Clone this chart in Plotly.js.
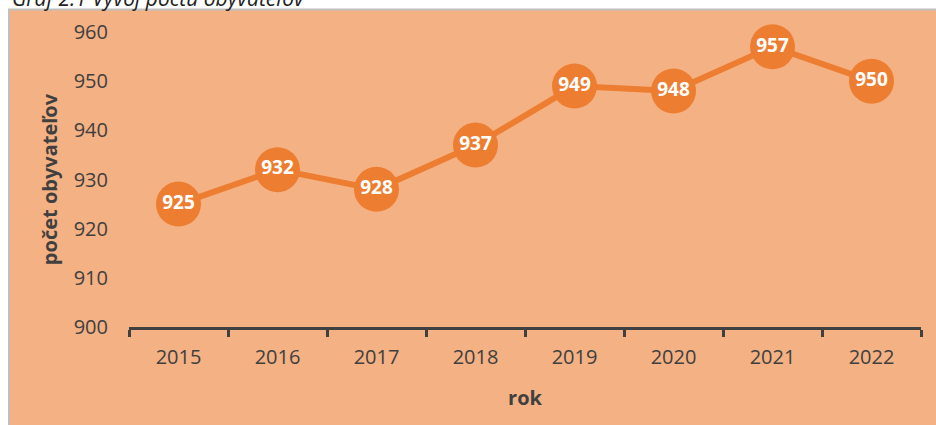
<!DOCTYPE html>
<html>
<head>
<meta charset="utf-8">
<script src="https://cdn.plot.ly/plotly-3.0.1.min.js"></script>
<style>
html,body{margin:0;padding:0;background:#fff;}
#chart{width:936px;height:425px;}
</style>
</head>
<body>
<div id="chart"></div>
<script>
const years = ['2015','2016','2017','2018','2019','2020','2021','2022'];
const population = [925, 932, 928, 937, 949, 948, 957, 950];
const yTicks = [900, 910, 920, 930, 940, 950, 960];
const chartTitle = 'Graf 2.1 Vývoj počtu obyvateľov';
const xTitle = 'rok';
const yTitle = 'počet obyvateľov';

const FONT = 'Open Sans, Noto Sans, sans-serif';
const ORANGE = '#ED7D31';
const BG = '#F4B183';
const TXT = '#404040';

const trace = {
  type: 'scatter',
  mode: 'lines+markers+text',
  x: years,
  y: population,
  text: population.map(String),
  textposition: 'middle center',
  textfont: {family: FONT, size: 19, color: '#FFFFFF', weight: 'bold'},
  line: {color: ORANGE, width: 6},
  marker: {color: ORANGE, size: 45, line: {width: 0}},
  cliponaxis: false,
  hoverinfo: 'skip'
};

const L = 129, R = 15, T = 32, B = 98;
const W = 936 - L - R, H = 425 - T - B;
const px = p => (p - L) / W;
const py = p => (425 - B - p) / H;

const layout = {
  width: 936, height: 425,
  margin: {l: L, r: R, t: T, b: B},
  paper_bgcolor: '#FFFFFF',
  plot_bgcolor: 'rgba(0,0,0,0)',
  showlegend: false,
  font: {family: FONT, color: TXT},
  shapes: [{
    type: 'rect', xref: 'paper', yref: 'paper', layer: 'below',
    x0: px(9), x1: px(940), y0: py(430), y1: py(9.5),
    fillcolor: BG, line: {color: '#BFBFBF', width: 2}
  }],
  annotations: [{
    xref: 'paper', yref: 'paper', x: px(10), y: py(-2),
    xanchor: 'left', yanchor: 'middle', showarrow: false,
    text: '<i>' + chartTitle + '</i>',
    font: {family: FONT, size: 21, color: '#222222'}
  }],
  xaxis: {
    type: 'category',
    range: [-0.5, years.length - 0.5],
    showline: true, linecolor: TXT, linewidth: 3,
    ticks: 'outside', tickson: 'boundaries', ticklen: 7, tickwidth: 3, tickcolor: TXT,
    showgrid: false, zeroline: false,
    tickfont: {family: FONT, size: 20, color: TXT},
    ticklabelstandoff: 10,
    title: {text: xTitle, font: {family: FONT, size: 20, color: TXT, weight: 'bold'}, standoff: 22},
    fixedrange: true
  },
  yaxis: {
    range: [900, 960],
    tickvals: yTicks,
    showline: false, showgrid: false, zeroline: false,
    ticks: '', ticklabelstandoff: 20,
    tickfont: {family: FONT, size: 20, color: TXT},
    title: {text: yTitle, font: {family: FONT, size: 20, color: TXT, weight: 'bold'}, standoff: 10},
    fixedrange: true
  }
};

Plotly.newPlot('chart', [trace], layout, {displayModeBar: false, staticPlot: true});
</script>
</body>
</html>
